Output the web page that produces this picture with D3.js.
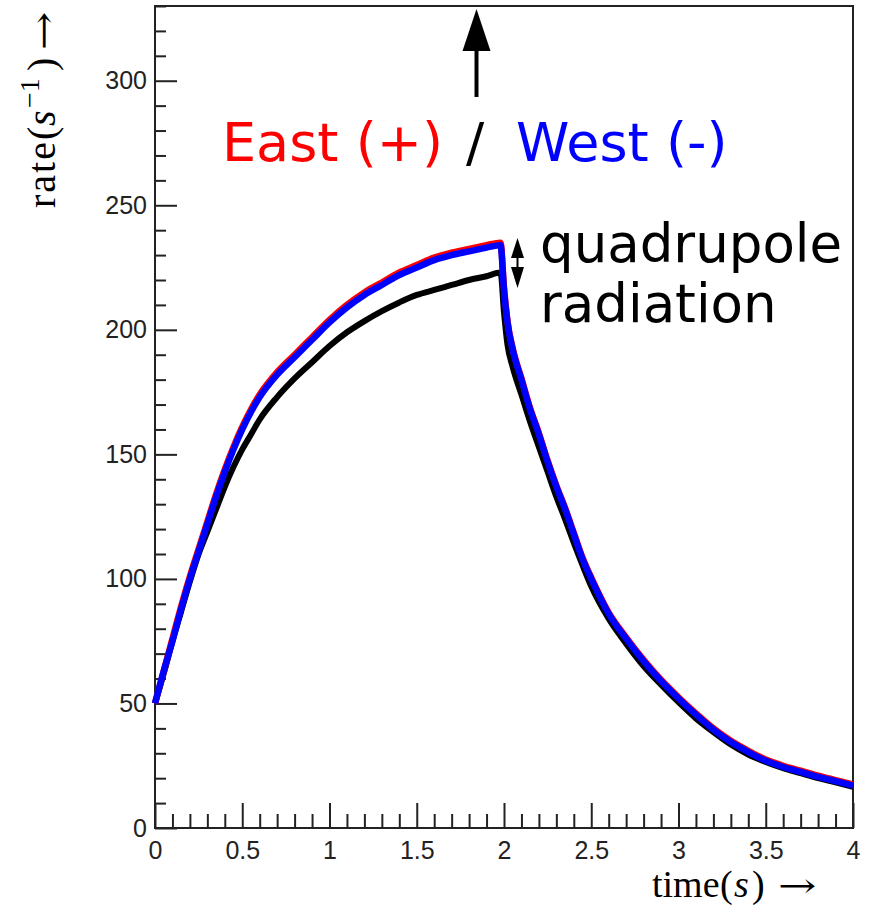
<!DOCTYPE html>
<html>
<head>
<meta charset="utf-8">
<script src="https://cdn.jsdelivr.net/npm/d3@7"></script>
<style>
  html, body { margin: 0; padding: 0; background: #fff; }
  svg { display: block; }
</style>
</head>
<body>
<svg id="chart" width="869" height="909"></svg>
<script>
// Rate vs time, East (+) / West (-) plus the black reference curve

const TIMES = [0, 0.05, 0.1, 0.15, 0.2, 0.25, 0.3, 0.35, 0.4, 0.45, 0.5, 0.55, 0.6, 0.7, 0.8, 0.9,
  1.0, 1.1, 1.2, 1.3, 1.4, 1.5, 1.6, 1.7, 1.8, 1.9, 1.98, 2.0, 2.02, 2.05, 2.1, 2.15, 2.2, 2.25,
  2.3, 2.35, 2.4, 2.45, 2.5, 2.6, 2.7, 2.8, 2.9, 3.0, 3.1, 3.2, 3.3, 3.4, 3.5, 3.6, 3.7, 3.8, 3.9, 4.0];

const RATE_BLACK = [50, 62, 75, 87, 99, 110, 119, 128, 137, 145, 152, 158, 164, 173, 180.5, 187,
  193.5, 199, 203.5, 207.5, 211, 214, 216, 218, 220, 221.5, 223, 207, 194, 185, 174, 163, 153, 143,
  133, 124, 114.5, 105.5, 97, 84, 74, 65, 57.5, 50.5, 44, 38.5, 33.5, 29.5, 26.5, 24, 22, 20, 18.3, 16.5];

const RATE_EAST = [50, 63, 76, 89, 101, 112, 123, 134, 144, 153, 161, 168, 174, 183, 190, 197,
  204, 210, 215, 219, 223, 226, 229, 231, 232.5, 234, 235, 217, 203.5, 192.5, 180.5, 168.5, 158.5, 147.5,
  137.5, 128.5, 118.5, 108.5, 100.5, 86.5, 76.5, 67.5, 59.5, 52.5, 46, 40, 35, 31, 27.5, 25, 23, 21, 19.2, 17.5];

const RATE_WEST = [50, 63, 75, 88, 100, 111, 122, 133, 143, 152, 160, 167, 173, 182, 189, 196,
  203, 209, 214, 218, 222, 225, 228, 230, 231.5, 233, 234, 216, 203, 192, 180, 168, 158, 147,
  137, 128, 118, 108, 100, 86, 76, 67, 59, 52, 45.5, 39.5, 34.5, 30.5, 27, 24.5, 22.5, 20.5, 18.8, 17];

const X_DOMAIN = [0, 4];
const Y_DOMAIN = [0, 330];
const X_MAJOR = [0, 0.5, 1, 1.5, 2, 2.5, 3, 3.5, 4];
const Y_MAJOR = [0, 50, 100, 150, 200, 250, 300];

const PLOT_LEFT = 155;
const PLOT_RIGHT = 853;
const PLOT_TOP = 6;
const PLOT_BOTTOM = 828;

const COLOR_EAST = "#ff0000";
const COLOR_WEST = "#0000ff";
const COLOR_REF = "#000000";
const COLOR_AXIS = "#222222";

const svg = d3.select("#chart");

const x = d3.scaleLinear().domain(X_DOMAIN).range([PLOT_LEFT, PLOT_RIGHT]);
const y = d3.scaleLinear().domain(Y_DOMAIN).range([PLOT_BOTTOM, PLOT_TOP]);

const minorX = d3.range(0, 4.0001, 0.1).map((v) => +v.toFixed(1)).filter((v) => !X_MAJOR.includes(v));
const minorY = d3.range(0, 331, 10).filter((v) => !Y_MAJOR.includes(v));

// frame
svg.append("rect")
  .attr("x", PLOT_LEFT)
  .attr("y", PLOT_TOP)
  .attr("width", PLOT_RIGHT - PLOT_LEFT)
  .attr("height", PLOT_BOTTOM - PLOT_TOP)
  .attr("fill", "none")
  .attr("stroke", COLOR_AXIS)
  .attr("stroke-width", 2);

const styleAxis = (g) => {
  g.select(".domain").remove();
  g.selectAll(".tick line").attr("stroke", COLOR_AXIS).attr("stroke-width", 2);
  g.selectAll(".tick text")
    .attr("fill", COLOR_AXIS)
    .attr("font-family", "'Liberation Sans', Arial, sans-serif")
    .attr("font-size", 25);
};

// y axis: ticks pointing into the plot
svg.append("g")
  .attr("transform", "translate(" + PLOT_LEFT + ",0)")
  .call(d3.axisLeft(y).tickValues(minorY).tickSize(-11).tickFormat(""))
  .call(styleAxis);

svg.append("g")
  .attr("transform", "translate(" + PLOT_LEFT + ",0)")
  .call(d3.axisLeft(y).tickValues(Y_MAJOR).tickSize(-22).tickPadding(8).tickFormat(d3.format("d")))
  .call(styleAxis);

// x axis
svg.append("g")
  .attr("transform", "translate(0," + PLOT_BOTTOM + ")")
  .call(d3.axisBottom(x).tickValues(minorX).tickSize(-14).tickFormat(""))
  .call(styleAxis);

svg.append("g")
  .attr("transform", "translate(0," + PLOT_BOTTOM + ")")
  .call(d3.axisBottom(x).tickValues(X_MAJOR).tickSize(-25).tickPadding(13).tickFormat(d3.format("")))
  .call(styleAxis);

// curves (black first, blue drawn last on top)
const series = [
  { values: RATE_BLACK, color: COLOR_REF, width: 6 },
  { values: RATE_EAST, color: COLOR_EAST, width: 6.5 },
  { values: RATE_WEST, color: COLOR_WEST, width: 6.5 }
];

const line = d3.line()
  .curve(d3.curveMonotoneX)
  .x((d) => x(d[0]))
  .y((d) => y(d[1]));

const curveGroupEl = svg.append("g").attr("class", "curves");
series.forEach((s) => {
  curveGroupEl.append("path")
    .attr("d", line(TIMES.map((t, i) => [t, s.values[i]])))
    .attr("fill", "none")
    .attr("stroke", s.color)
    .attr("stroke-width", s.width)
    .attr("stroke-linejoin", "round")
    .attr("stroke-linecap", "butt");
});

// upward arrow above the legend text
svg.append("line")
  .attr("x1", 476.5).attr("y1", 97)
  .attr("x2", 476.5).attr("y2", 50)
  .attr("stroke", "#000").attr("stroke-width", 4);
svg.append("path")
  .attr("d", "M476.5,9 L490.5,51 L462.5,51 Z")
  .attr("fill", "#000");

// legend text
const legendFont = "'DejaVu Sans', Verdana, sans-serif";
const legendEl = svg.append("text")
  .attr("y", 161)
  .attr("font-family", legendFont)
  .attr("font-size", 54);
legendEl.append("tspan").attr("x", 222).attr("fill", COLOR_EAST).text("East (+)");
legendEl.append("tspan").attr("x", 466).attr("fill", "#000").text("/");
legendEl.append("tspan").attr("x", 516).attr("fill", COLOR_WEST).text("West (-)");

// double arrow for the quadrupole gap
svg.append("line")
  .attr("x1", 517.5).attr("y1", 255)
  .attr("x2", 517.5).attr("y2", 270)
  .attr("stroke", "#000").attr("stroke-width", 2);
svg.append("path").attr("d", "M517.5,238 L524,258 L511,258 Z").attr("fill", "#000");
svg.append("path").attr("d", "M517.5,288 L524,267 L511,267 Z").attr("fill", "#000");

svg.append("text")
  .attr("x", 540).attr("y", 262)
  .attr("font-family", legendFont).attr("font-size", 53)
  .attr("fill", "#000")
  .text("quadrupole");
svg.append("text")
  .attr("x", 540).attr("y", 322)
  .attr("font-family", legendFont).attr("font-size", 53)
  .attr("fill", "#000")
  .text("radiation");

// axis titles in a LaTeX-like serif
const serif = "'Liberation Serif', 'Times New Roman', serif";
const arrowFont = "'DejaVu Serif', serif";

const xTitleEl = svg.append("text")
  .attr("y", 897)
  .attr("font-family", serif).attr("font-size", 38)
  .attr("fill", "#000");
xTitleEl.append("tspan").attr("x", 652).text("time");
xTitleEl.append("tspan").attr("x", 720).text("(");
xTitleEl.append("tspan").attr("x", 734).attr("font-style", "italic").text("s");
xTitleEl.append("tspan").attr("x", 752).text(")");

svg.append("text")
  .attr("transform", "translate(778,897) scale(1.35,1)")
  .attr("font-family", arrowFont).attr("font-size", 34)
  .attr("fill", "#000")
  .text("→");

const yTitleEl = svg.append("text")
  .attr("transform", "translate(55,208) rotate(-90)")
  .attr("font-family", serif).attr("font-size", 40)
  .attr("fill", "#000");
yTitleEl.append("tspan").attr("x", 0).attr("letter-spacing", 2).text("rate");
yTitleEl.append("tspan").attr("x", 68).text("(");
yTitleEl.append("tspan").attr("x", 82).attr("font-style", "italic").text("s");
yTitleEl.append("tspan").attr("x", 100).attr("font-size", 28).attr("dy", -16).text("−1");
yTitleEl.append("tspan").attr("x", 137).attr("dy", 16).text(")");

svg.append("text")
  .attr("transform", "translate(55,50) rotate(-90) scale(1.35,1)")
  .attr("font-family", arrowFont).attr("font-size", 34)
  .attr("fill", "#000")
  .text("→");
</script>
</body>
</html>
